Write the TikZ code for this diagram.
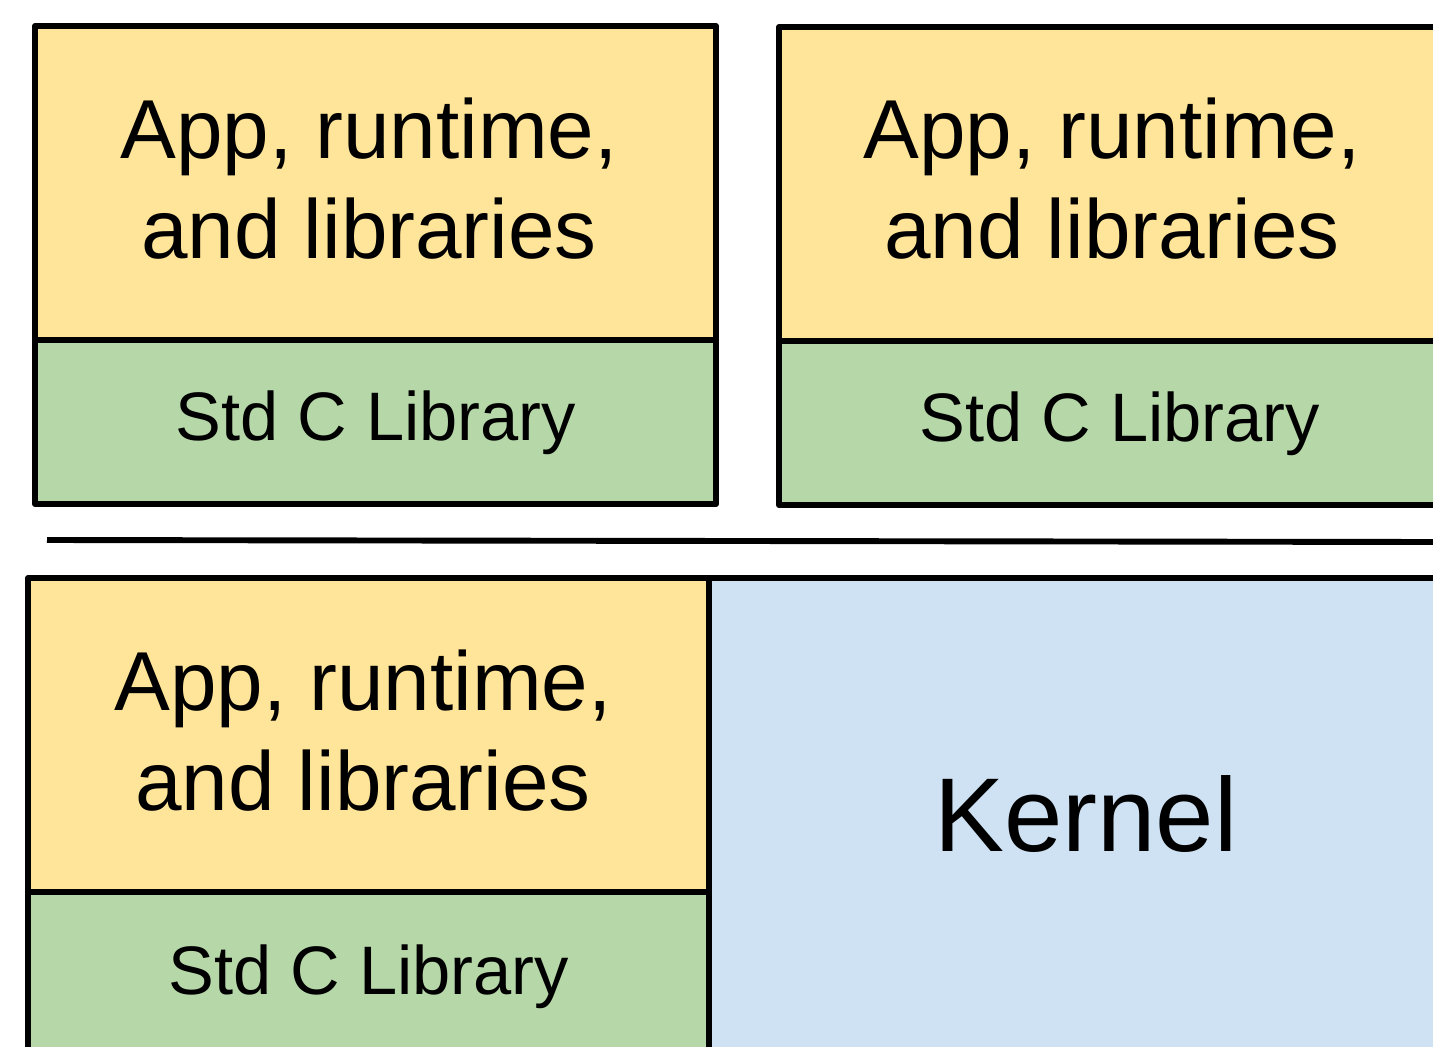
\documentclass[tikz,border=0pt]{standalone}
\usepackage{fontspec}
\setmainfont{Liberation Sans}
\usetikzlibrary{calc}
\definecolor{appyellow}{HTML}{FFE599}
\definecolor{libgreen}{HTML}{B6D7A8}
\definecolor{kernblue}{HTML}{CFE2F3}
\tikzset{
  layer/.style={draw=black, line width=4.2pt, line join=round},
  apptext/.style={align=center, font=\fontsize{59.5}{71}\selectfont},
  libtext/.style={font=\fontsize{48.8}{58}\selectfont},
  kerntext/.style={font=\fontsize{74.6}{89}\selectfont}
}

\begin{document}
\begin{tikzpicture}[x=0.025cm, y=-0.025cm]
			%%%%% START %%%%%
			\useasboundingbox (0, 0) rectangle (1433, 1046);
			\clip (0, 0) rectangle (1433, 1046);
			
			% first process
			\draw[layer, fill=appyellow] (35, 26) rectangle (716, 340);
			\draw[layer, fill=libgreen] (35, 340) rectangle (716, 504);
			\node[apptext] (appA) at (369, 179) {App, runtime,\\and libraries};
			\node[libtext] (libA) at (376, 423) {Std C Library};
			
			% second process
			\draw[layer, fill=appyellow] (779, 27) rectangle (1462, 341);
			\draw[layer, fill=libgreen] (779, 341) rectangle (1462, 505);
			\node[apptext] (appB) at (1112, 179) {App, runtime,\\and libraries};
			\node[libtext] (libB) at (1120, 424) {Std C Library};
			
			% separator
			\draw[line width=4.2pt] (47, 540) -- (1440, 542);
			
			% unikernel
			\draw[layer, fill=kernblue] (709, 578) rectangle (1480, 1100);
			\draw[layer, fill=appyellow] (28, 578) rectangle (709, 892);
			\draw[layer, fill=libgreen] (28, 892) rectangle (709, 1100);
			\node[apptext] (appC) at (363, 731) {App, runtime,\\and libraries};
			\node[libtext] (libC) at (369, 977) {Std C Library};
			\node[kerntext] (kern) at (1086, 814) {Kernel};
			
			%%%%% END %%%%%
\end{tikzpicture}
\end{document}
